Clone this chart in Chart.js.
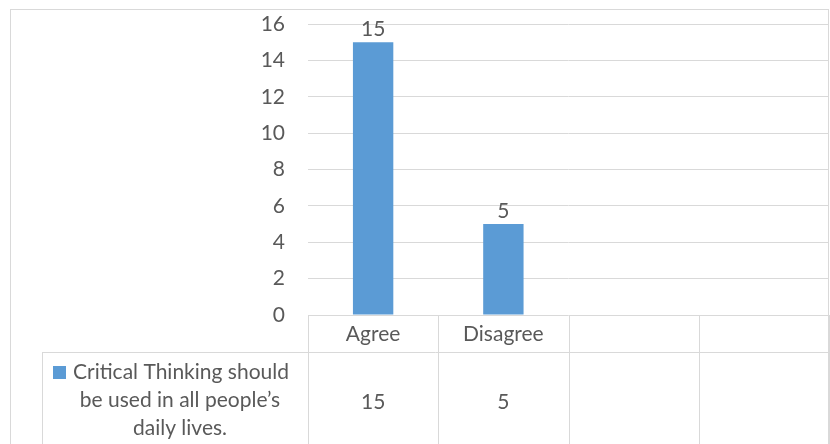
<!DOCTYPE html>
<html>
<head>
<meta charset="utf-8">
<title>Critical Thinking</title>
<script src="https://cdn.jsdelivr.net/npm/chart.js@4.4.1/dist/chart.umd.min.js"></script>
<style>
  html, body { margin: 0; padding: 0; background: #ffffff; }
  #wrap { width: 830px; height: 444px; }
</style>
</head>
<body>
<div id="wrap"><canvas id="chart" width="830" height="444"></canvas></div>
<script>
  // Chart data
  const categories = ['Agree', 'Disagree', '', ''];
  const values = [15, 5, null, null];
  const seriesName = 'Critical Thinking should be used in all people\u2019s daily lives.';
  const legendLines = ['Critical Thinking should', 'be used in all people\u2019s', 'daily lives.'];
  const yMin = 0;
  const yMax = 16;
  const yStep = 2;

  const barColor = '#5B9BD5';
  const gridColor = '#D9D9D9';
  const textColor = '#595959';
  const fontFamily = 'Lato, "Open Sans", sans-serif';
  const fontSize = 21;

  // Draws the value labels above the bars
  const barLabels = {
      id: 'barLabels',
      afterDatasetsDraw(chart) {
          const ctx = chart.ctx;
          const meta = chart.getDatasetMeta(0);
          ctx.save();
          ctx.fillStyle = textColor;
          ctx.font = fontSize + 'px ' + fontFamily;
          ctx.textAlign = 'center';
          ctx.textBaseline = 'alphabetic';
          meta.data.forEach((bar, i) => {
              if (values[i] == null) return;
              ctx.fillText(String(values[i]), bar.x, bar.y - 6);
          });
          ctx.restore();
      }
  };

  // Draws the outer frame and the data table under the plot
  const dataTable = {
      id: 'dataTable',
      afterDraw(chart) {
          const ctx = chart.ctx;
          const area = chart.chartArea;
          const xs = chart.scales.x;
          const n = categories.length;
          const colW = (xs.right - xs.left) / n;
          const headerBottom = area.bottom + 37;
          const bottom = chart.height;
          const legendLeft = 42;

          ctx.save();
          ctx.strokeStyle = gridColor;
          ctx.lineWidth = 1;

          // outer frame
          ctx.strokeRect(10.5, 9.5, 818, bottom + 20);

          ctx.beginPath();
          // header row bottom line
          ctx.moveTo(legendLeft, Math.round(headerBottom) + 0.5);
          ctx.lineTo(xs.right, Math.round(headerBottom) + 0.5);
          // column separators
          for (let i = 0; i <= n; i++) {
              const bx = Math.round(xs.left + i * colW) + 0.5;
              ctx.moveTo(bx, area.bottom);
              ctx.lineTo(bx, bottom);
          }
          // legend cell left edge
          ctx.moveTo(legendLeft + 0.5, headerBottom);
          ctx.lineTo(legendLeft + 0.5, bottom);
          ctx.stroke();

          ctx.fillStyle = textColor;
          ctx.font = fontSize + 'px ' + fontFamily;
          ctx.textAlign = 'center';
          ctx.textBaseline = 'middle';

          // category labels and values
          categories.forEach((cat, i) => {
              const cx = xs.left + (i + 0.5) * colW;
              ctx.fillText(cat, cx, area.bottom + 19);
              if (values[i] != null) {
                  ctx.fillText(String(values[i]), cx, headerBottom + 50);
              }
          });

          // legend cell
          const cellCenter = (legendLeft + xs.left) / 2;
          const lineH = 28;
          const firstY = headerBottom + 20;
          const keySize = 13;
          const keyGap = 7;
          legendLines.forEach((line, i) => {
              const y = firstY + i * lineH;
              if (i === 0) {
                  const tw = ctx.measureText(line).width;
                  const total = keySize + keyGap + tw;
                  const start = cellCenter - 4 - total / 2;
                  ctx.fillStyle = barColor;
                  ctx.fillRect(Math.round(start), Math.round(y - keySize / 2), keySize, keySize);
                  ctx.fillStyle = textColor;
                  ctx.textAlign = 'left';
                  ctx.fillText(line, start + keySize + keyGap, y);
                  ctx.textAlign = 'center';
              } else {
                  ctx.fillText(line, cellCenter + 5, y);
              }
          });
          ctx.restore();
      }
  };

  const ctx = document.getElementById('chart').getContext('2d');
  new Chart(ctx, {
      type: 'bar',
      data: {
          labels: categories,
          datasets: [{
              label: seriesName,
              data: values,
              backgroundColor: barColor,
              borderWidth: 0,
              categoryPercentage: 1,
              barPercentage: 0.31
          }]
      },
      options: {
          responsive: false,
          animation: false,
          layout: {
              padding: { top: 24, right: 1, bottom: 129, left: 0 }
          },
          plugins: {
              legend: { display: false },
              tooltip: { enabled: false }
          },
          scales: {
              x: {
                  display: false,
                  offset: true
              },
              y: {
                  min: yMin,
                  max: yMax,
                  ticks: {
                      stepSize: yStep,
                      color: textColor,
                      padding: 23,
                      font: { family: fontFamily, size: fontSize }
                  },
                  grid: {
                      color: gridColor,
                      drawTicks: false
                  },
                  border: { display: false },
                  afterFit(scale) {
                      scale.width = 308;
                      scale.paddingTop = 0;
                      scale.paddingBottom = 0;
                  }
              }
          }
      },
      plugins: [barLabels, dataTable]
  });
</script>
</body>
</html>
